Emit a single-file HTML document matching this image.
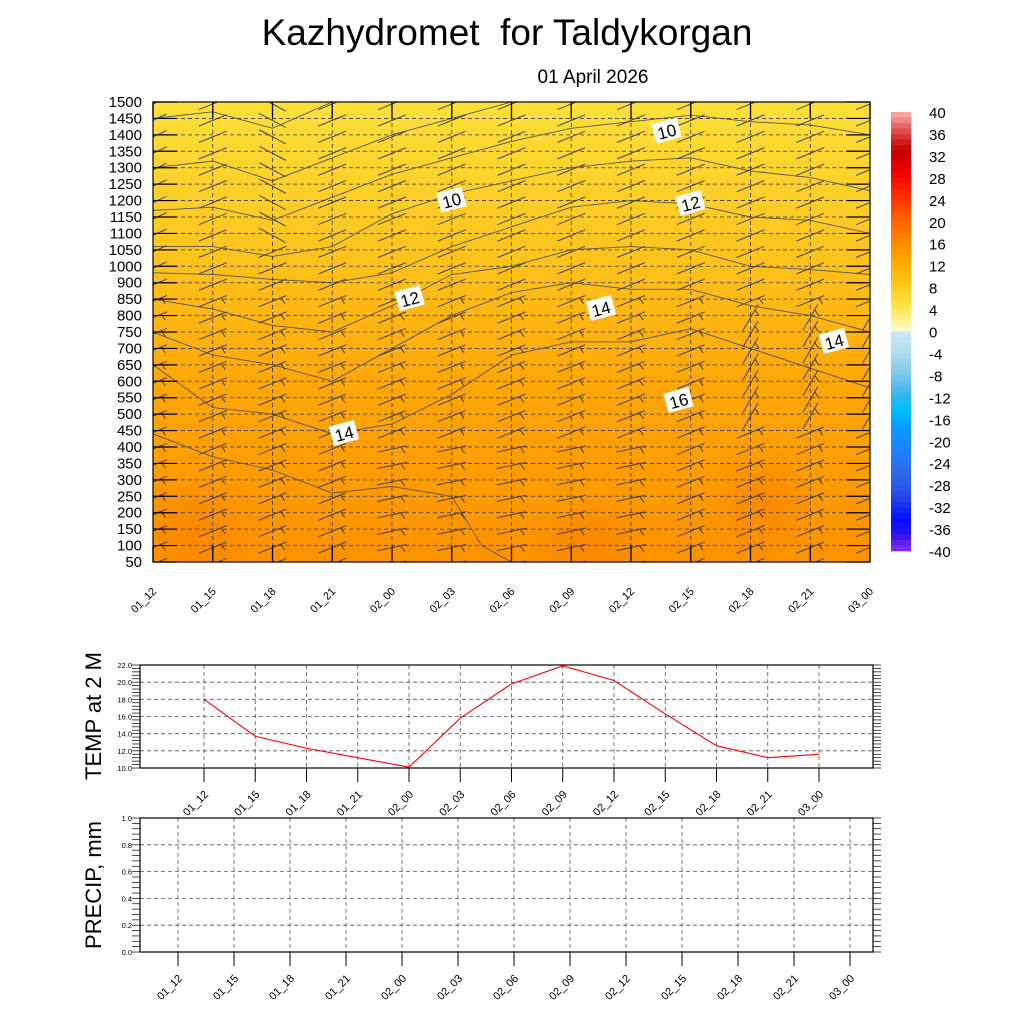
<!DOCTYPE html>
<html><head><meta charset="utf-8"><style>
html,body{margin:0;padding:0;background:#fff;width:1024px;height:1024px;overflow:hidden}
svg{font-family:"Liberation Sans",sans-serif}
</style></head><body>
<svg id="s" width="1024" height="1024" xmlns="http://www.w3.org/2000/svg">
<defs>
<linearGradient id="bg" x1="0" y1="0" x2="0" y2="1">
<stop offset="0" stop-color="#fee13a"/><stop offset="0.35" stop-color="#fdc21c"/><stop offset="0.6" stop-color="#fda808"/><stop offset="1" stop-color="#fc9200"/>
</linearGradient>
<radialGradient id="hot" cx="0.5" cy="0.5" r="0.5"><stop offset="0" stop-color="#f98400" stop-opacity="0.8"/><stop offset="1" stop-color="#f98400" stop-opacity="0"/></radialGradient>
<clipPath id="pc"><rect x="153" y="102" width="717" height="460"/></clipPath>
</defs>
<text x="507" y="45" font-size="37" text-anchor="middle">Kazhydromet&#160; for Taldykorgan</text>
<text x="593" y="83" font-size="19" text-anchor="middle">01 April 2026</text>
<g id="top"></g><g id="cbar"></g><g id="temp"></g><g id="precip"></g>
</svg>
<script>
const NS="http://www.w3.org/2000/svg";
function mk(p,t,a){const e=document.createElementNS(NS,t);for(const k in a)e.setAttribute(k,a[k]);p.appendChild(e);return e;}
const times=["01_12","01_15","01_18","01_21","02_00","02_03","02_06","02_09","02_12","02_15","02_18","02_21","03_00"];
const heights=[1500,1450,1400,1350,1300,1250,1200,1150,1100,1050,1000,900,850,800,750,700,650,600,550,500,450,400,350,300,250,200,150,100,50];
const tempValues=[18.0,13.7,12.3,11.2,10.1,15.8,19.8,21.9,20.2,16.3,12.6,11.2,11.6];
const tempTicks=[10,12,14,16,18,20,22];
const precipValues=[0,0,0,0,0,0,0,0,0,0,0,0,0];
const precipTicks=[0,0.2,0.4,0.6,0.8,1.0];
const cbarLabels=[40,36,32,28,24,20,16,12,8,4,0,-4,-8,-12,-16,-20,-24,-28,-32,-36,-40];
const contourLevels=[10,10,10,11,12,13,14,15,16];
const contours=[
[[0,1450],[1,1470],[2,1420],[3,1500]],
[[0,1300],[1,1320],[2,1260],[3,1330],[4,1400],[5,1450],[6,1500]],
[[0,1170],[1,1180],[2,1140],[3,1210],[4,1280],[5,1330],[6,1380],[7,1420],[8,1440],[9,1460],[10,1440],[11,1430],[12,1400]],
[[0,1060],[1,1060],[2,1030],[3,1060],[4,1160],[5,1220],[6,1260],[7,1300],[8,1320],[9,1330],[10,1290],[11,1270],[12,1230]],
[[0,960],[1,950],[2,920],[3,900],[4,960],[5,1060],[6,1120],[7,1180],[8,1200],[9,1190],[10,1150],[11,1140],[12,1100]],
[[0,850],[1,820],[2,770],[3,750],[4,830],[5,950],[6,1000],[7,1050],[8,1060],[9,1050],[10,1000],[11,980],[12,950]],
[[0,750],[1,680],[2,650],[3,600],[4,700],[5,800],[6,870],[7,900],[8,880],[9,880],[10,830],[11,800],[12,750]],
[[0,650],[1,520],[2,500],[3,440],[4,470],[5,560],[6,680],[7,720],[8,720],[9,760],[10,700],[11,640],[12,580]],
[[0,440],[1,370],[2,330],[3,260],[4,280],[5,250],[5.5,100],[6,50]]
];
const hiZones=[[0.7,150,70,60],[7.3,120,70,40],[10.2,230,60,60]];
const labels=[[8.6,1410,"10"],[5,1200,"10"],[9,1190,"12"],[4.3,850,"12"],[7.5,820,"14"],[11.4,720,"14"],[3.2,440,"14"],[8.8,540,"16"]];

const T=document.getElementById('top');
const X0=153,X1=870,Y0=102,Y1=562;
const tx=i=>X0+i*(X1-X0)/(times.length-1);
const hy=h=>{let i=heights.indexOf(h); if(i>=0) return Y0+i*(Y1-Y0)/(heights.length-1);
  for(let k=0;k<heights.length-1;k++){const a=heights[k],b=heights[k+1];if(h<=a&&h>=b){return Y0+(k+(a-h)/(a-b))*(Y1-Y0)/(heights.length-1);}}
  return h>1500?Y0:Y1;};
const PG=mk(T,'g',{'clip-path':'url(#pc)'});
let r=mk(PG,'rect',{x:X0,y:Y0,width:X1-X0,height:Y1-Y0,fill:'url(#bg)'});

hiZones.forEach(z=>{const e=mk(PG,'ellipse',{cx:tx(z[0]),cy:hy(z[1]),rx:z[2],ry:z[3],fill:'url(#hot)'});
});
heights.forEach((h,i)=>{const y=hy(h);
 const g=mk(T,'line',{x1:X0,x2:X1,y1:y,y2:y,stroke:'#333','stroke-width':0.8,'stroke-dasharray':'4,3'});
 
 mk(T,'line',{x1:X0,x2:X0+24,y1:y,y2:y,stroke:'#000','stroke-width':1.2});
 mk(T,'line',{x1:X1-24,x2:X1,y1:y,y2:y,stroke:'#000','stroke-width':1.2});
 const t=mk(T,'text',{x:X0-11,y:y+5,'font-size':15,'text-anchor':'end'});t.textContent=h;
 });
times.forEach((s,i)=>{const x=tx(i);
 const g=mk(T,'line',{x1:x,x2:x,y1:Y0,y2:Y1,stroke:'#333','stroke-width':0.8,'stroke-dasharray':'4,3'});
 
 mk(T,'line',{x1:x,x2:x,y1:Y0,y2:Y0+16,stroke:'#000','stroke-width':1.3});
 mk(T,'line',{x1:x,x2:x,y1:Y1-16,y2:Y1,stroke:'#000','stroke-width':1.3});
 const t=mk(T,'text',{x:x+4,y:Y1+30,'font-size':11,'text-anchor':'end',transform:`rotate(-45 ${x+4} ${Y1+30})`});t.textContent=s;
 });
contours.forEach((c,k)=>{const p=mk(PG,'polyline',{points:c.map(q=>tx(q[0])+','+hy(q[1])).join(' '),fill:'none',stroke:'#555','stroke-width':0.9});
 });
// wind barbs
times.forEach((s,i)=>{heights.forEach((h,j)=>{
 const x=tx(i),y=hy(h)+2;
 let ang=-22;
 if(i==2&&j<9) ang=28;
 if(j>20&&i>=4&&i<=8) ang=-12;
 if(i>=10&&j>12&&j<20) ang=-60;
 if(i==0&&j<11) ang=-25;
 const a=ang*Math.PI/180,L=15;
 const dx=Math.cos(a)*L,dy=Math.sin(a)*L;
 const b=mk(PG,'line',{x1:x-dx,y1:y-dy,x2:x+dx,y2:y+dy,stroke:'#333','stroke-width':0.9});
 
 if(j>11){const f=mk(PG,'line',{x1:x+dx*0.6,y1:y+dy*0.6,x2:x+dx*0.6+4,y2:y+dy*0.6+6,stroke:'#333','stroke-width':0.9});
 }
});});
labels.forEach(l=>{const x=tx(l[0]),y=hy(l[1]);
 const g=mk(T,'g',{transform:`translate(${x},${y}) rotate(-15)`});
 
 mk(g,'rect',{x:-13,y:-11,width:26,height:20,fill:'#fff'});
 const t=mk(g,'text',{x:0,y:6,'font-size':17,'text-anchor':'middle'});t.textContent=l[2];});
mk(T,'rect',{x:X0,y:Y0,width:X1-X0,height:Y1-Y0,fill:'none',stroke:'#000','stroke-width':1.2});

const C=document.getElementById('cbar');
const stops=[[40,'#fdb2b4'],[36,'#dc3c3c'],[33,'#c40000'],[29,'#f00000'],[25,'#ff2a00'],[21,'#ff5a00'],[17,'#ff8200'],[13,'#ffa600'],[9,'#ffc418'],[5,'#ffe040'],[2,'#fff290'],[0.01,'#fffcd0'],[-0.01,'#cce8f6'],[-4,'#b0dbee'],[-8,'#78c6ea'],[-12,'#30b4ee'],[-14,'#00c0ff'],[-18,'#0a98ff'],[-22,'#2080f8'],[-26,'#3068e8'],[-30,'#2848e8'],[-34,'#0010ff'],[-37,'#3010e8'],[-40,'#8a30f0']];
function hex(h){return[1,3,5].map(i=>parseInt(h.substr(i,2),16));}
function col(v){for(let k=0;k<stops.length-1;k++){const[a,ca]=stops[k],[b,cb]=stops[k+1];if(v<=a&&v>=b){const t=(a-v)/(a-b),A=hex(ca),B=hex(cb);return 'rgb('+A.map((q,i)=>Math.round(q+(B[i]-q)*t)).join(',')+')';}}return stops[stops.length-1][1];}
const CB0=112,CB1=551,n=80;
for(let k=0;k<n;k++){const v=40-(k+0.5)*80/n;const e=mk(C,'rect',{x:891,y:CB0+k*(CB1-CB0)/n,width:20,height:(CB1-CB0)/n+0.3,fill:col(v)});
 }
cbarLabels.forEach(v=>{const y=CB0+(40-v)/80*(CB1-CB0);const t=mk(C,'text',{x:929,y:y+6,'font-size':15});t.textContent=v;
 });

function panel(G,box,ticks,fmt,vals,color,tickX0,tickX1,ylabel,ylabelY,lname){
 const[x0,y0,x1,y1]=box,ymin=ticks[0],ymax=ticks[ticks.length-1];
 const sy=v=>y1-(v-ymin)/(ymax-ymin)*(y1-y0);const sx=i=>tickX0+i*(tickX1-tickX0)/(times.length-1);
 for(let m=0;m<=(ticks.length-1)*5;m++){const v=ymin+m*(ymax-ymin)/((ticks.length-1)*5);const y=sy(v);
  mk(G,'line',{x1:x0,x2:x0-8,y1:y,y2:y,stroke:'#000','stroke-width':0.7});
  mk(G,'line',{x1:x1,x2:x1+8,y1:y,y2:y,stroke:'#000','stroke-width':0.7});}
 ticks.forEach(v=>{const y=sy(v);
  if(v!=ymin&&v!=ymax){const g=mk(G,'line',{x1:x0,x2:x1,y1:y,y2:y,stroke:'#555','stroke-width':0.8,'stroke-dasharray':'4,3'});
  }
  const t=mk(G,'text',{x:x0-8,y:y+3,'font-size':7.5,'text-anchor':'end'});t.textContent=fmt(v);
  });
 times.forEach((s,i)=>{const x=sx(i);
  const g=mk(G,'line',{x1:x,x2:x,y1:y0,y2:y1,stroke:'#555','stroke-width':0.8,'stroke-dasharray':'4,3'});
  
  mk(G,'line',{x1:x,x2:x,y1:y1,y2:y1+14,stroke:'#000','stroke-width':1});
  const t=mk(G,'text',{x:x+5,y:y1+27,'font-size':11,'text-anchor':'end',transform:`rotate(-45 ${x+5} ${y1+27})`});t.textContent=s;
  });
 const p=mk(G,'polyline',{points:vals.map((v,i)=>sx(i)+','+sy(v)).join(' '),fill:'none',stroke:color,'stroke-width':1.1});
 
 const f=mk(G,'rect',{x:x0,y:y0,width:x1-x0,height:y1-y0,fill:'none',stroke:'#000','stroke-width':1.2});
 
 const t=mk(G,'text',{x:101,y:ylabelY,'font-size':22,'text-anchor':'middle',transform:`rotate(-90 101 ${ylabelY})`});t.textContent=ylabel;
 
}
panel(document.getElementById('temp'),[140,665,873,768],tempTicks,v=>v.toFixed(1),tempValues,'#f00',204,819,'TEMP at 2 M',716,'temperature-line');
panel(document.getElementById('precip'),[140,818,873,952],precipTicks,v=>v.toFixed(1),precipValues,'#1a8a1a',178,850,'PRECIP, mm',885,'precip-line');
</script>
</body></html>
